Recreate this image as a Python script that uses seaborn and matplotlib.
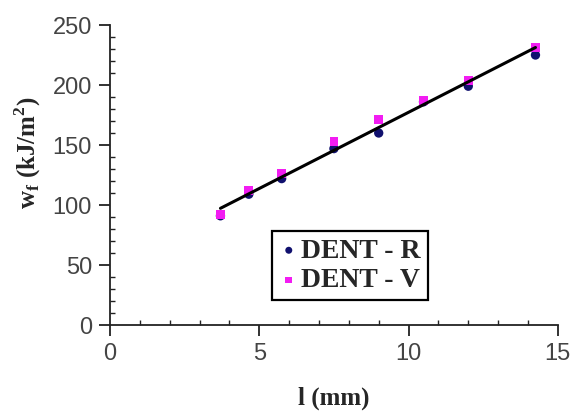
import numpy as np
import pandas as pd
import matplotlib
matplotlib.use("Agg")
import matplotlib.pyplot as plt
import seaborn as sns
from matplotlib.ticker import MultipleLocator

# Ligament length l (mm) and specific essential work of fracture
ligament = [3.7, 4.65, 5.75, 7.5, 9.0, 10.5, 12.0, 14.25]
wf_dent_r = [91, 109, 122, 147, 160, 186, 199, 225]
wf_dent_v = [92, 112, 126, 153, 171, 187, 204, 231]
series_names = ["DENT - R", "DENT - V"]
x_ticks = [0, 5, 10, 15]
y_ticks = [0, 50, 100, 150, 200, 250]

df_r = pd.DataFrame({"l": ligament, "wf": wf_dent_r, "series": series_names[0]})
df_v = pd.DataFrame({"l": ligament, "wf": wf_dent_v, "series": series_names[1]})
df_all = pd.concat([df_r, df_v], ignore_index=True)

sns.set_style("ticks")
plt.rcParams["font.family"] = ["Liberation Sans Narrow", "Liberation Sans", "DejaVu Sans"]

fig = plt.figure(figsize=(5.71, 4.17), dpi=100)
ax = fig.add_axes([0.1926, 0.2206, 0.7844, 0.7194])

sns.scatterplot(data=df_r, x="l", y="wf", ax=ax, marker="o", s=45,
                color="#10106e", edgecolor="none", label=series_names[0], zorder=3)
sns.scatterplot(data=df_v, x="l", y="wf", ax=ax, marker="s", s=40,
                color="#f21cf2", edgecolor="none", label=series_names[1], zorder=4)
sns.regplot(data=df_all, x="l", y="wf", ax=ax, scatter=False, ci=None,
            line_kws={"color": "black", "lw": 2.2, "zorder": 5})

ax.set_xlim(0, 15)
ax.set_ylim(0, 250)
ax.set_xticks(x_ticks)
ax.set_yticks(y_ticks)
ax.xaxis.set_minor_locator(MultipleLocator(1))
ax.yaxis.set_minor_locator(MultipleLocator(10))

for side in ("top", "right"):
    ax.spines[side].set_visible(False)
for side in ("left", "bottom"):
    ax.spines[side].set_linewidth(1.3)
    ax.spines[side].set_color("#222222")

ax.tick_params(axis="both", which="major", direction="out", length=8, width=1.3,
               color="#222222", labelsize=17, labelcolor="#444444", pad=5)
ax.tick_params(axis="both", which="minor", direction="in", length=3.5, width=1.0,
               color="#222222")

label_font = {"family": "Liberation Serif", "weight": "bold", "size": 18}
ax.set_xlabel("l (mm)", fontdict=label_font)
ax.set_ylabel(r"w$_\mathregular{f}$ (kJ/m$^\mathregular{2}$)", fontdict=label_font)
ax.xaxis.set_label_coords(0.50, -0.205)
ax.yaxis.set_label_coords(-0.15, 0.575)

leg = ax.legend(loc="lower left", bbox_to_anchor=(0.362, 0.083), frameon=True,
                fancybox=False, framealpha=1, edgecolor="black",
                prop={"family": "Liberation Serif", "weight": "bold", "size": 20},
                handletextpad=0.1, handlelength=0.7, borderpad=0.25,
                labelspacing=0.15, markerscale=0.75, borderaxespad=0)
leg.get_frame().set_linewidth(1.6)

fig.savefig("out.png", dpi=100)
